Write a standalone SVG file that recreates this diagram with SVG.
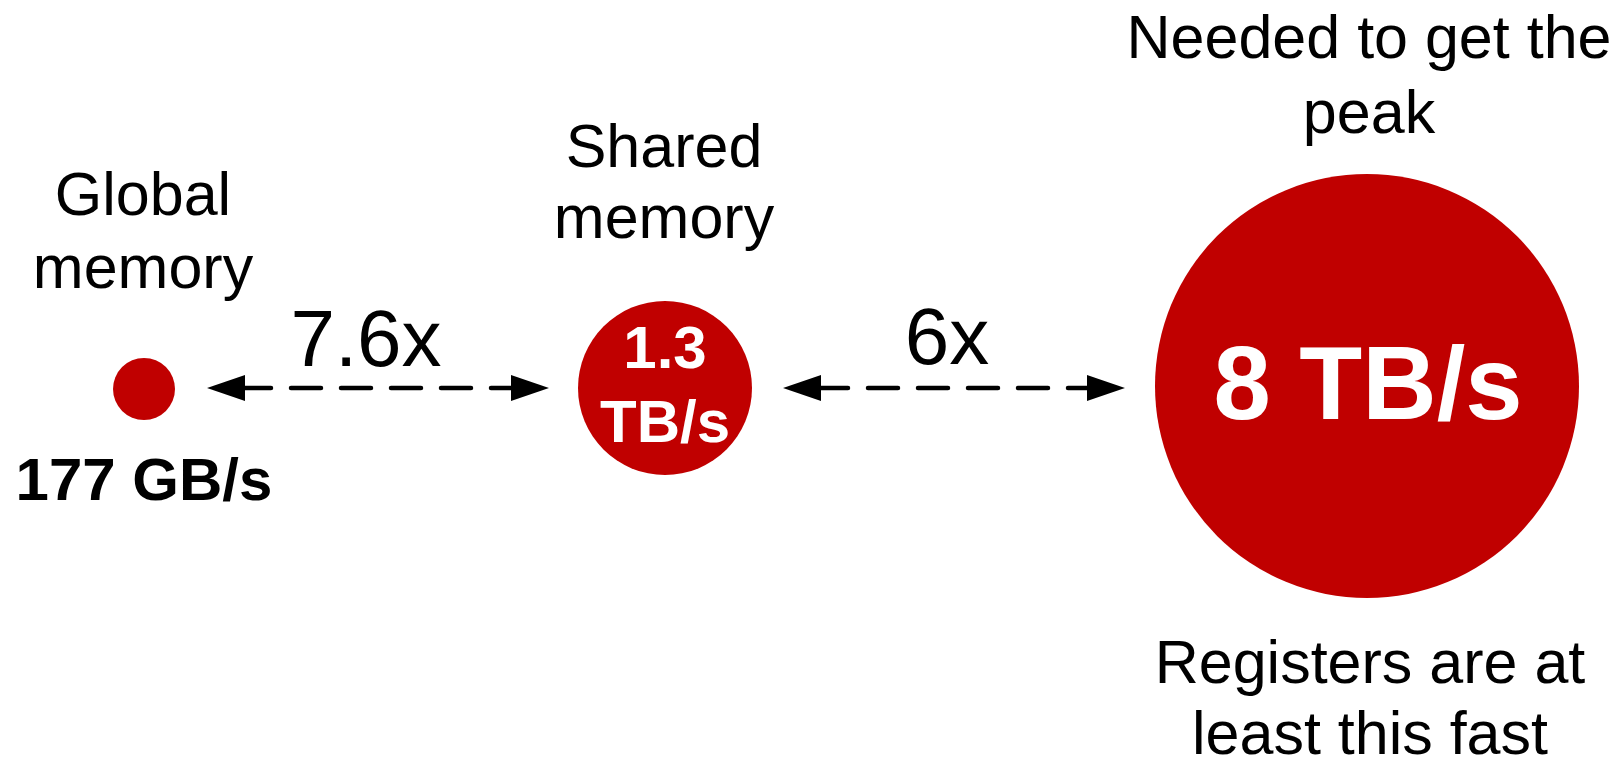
<svg xmlns="http://www.w3.org/2000/svg" width="1621" height="758" viewBox="0 0 1621 758">
  <style>
    .lbl { font-family: "Liberation Sans", Arial, sans-serif; font-size: 61px; fill: #000; text-anchor: middle; }
    .ratio { font-family: "Liberation Sans", Arial, sans-serif; font-size: 80px; fill: #000; text-anchor: middle; }
    .bw { font-family: "Liberation Sans", Arial, sans-serif; font-weight: bold; text-anchor: middle; }
    .dot { fill: #c00000; }
    .link { fill: none; stroke: #000; stroke-width: 4.5; stroke-linecap: round; stroke-dasharray: 30 20; }
  </style>
  <defs>
    <marker id="head" markerUnits="userSpaceOnUse" viewBox="0 0 38 26" refX="0" refY="13" markerWidth="38" markerHeight="26" orient="auto-start-reverse">
      <path d="M0,0 L38,13 L0,26 z" fill="#000"/>
    </marker>
  </defs>

  <rect width="1621" height="758" fill="#fff"/>

  <g id="connectors">
    <path class="link" d="M245,388 L511,388" stroke-dashoffset="4" marker-start="url(#head)" marker-end="url(#head)"/>
    <path class="link" d="M821,388 L1087,388" stroke-dashoffset="3" marker-start="url(#head)" marker-end="url(#head)"/>
    <text class="ratio" x="366" y="366">7.6x</text>
    <text class="ratio" x="947" y="364">6x</text>
  </g>

  <g id="global-memory">
    <text class="lbl" x="143" y="215">Global</text>
    <text class="lbl" x="143" y="288">memory</text>
    <circle class="dot" cx="144" cy="389" r="31"/>
    <text class="bw" x="144" y="500" font-size="60" fill="#000">177 GB/s</text>
  </g>

  <g id="shared-memory">
    <text class="lbl" x="664" y="167">Shared</text>
    <text class="lbl" x="664" y="238">memory</text>
    <circle class="dot" cx="665" cy="388" r="87"/>
    <text class="bw" x="665" y="368" font-size="60" fill="#fff">1.3</text>
    <text class="bw" x="665" y="442" font-size="60" fill="#fff">TB/s</text>
  </g>

  <g id="registers">
    <text class="lbl" x="1369" y="58">Needed to get the</text>
    <text class="lbl" x="1369" y="133">peak</text>
    <circle class="dot" cx="1367" cy="386" r="212"/>
    <text class="bw" x="1368" y="419" font-size="103" fill="#fff">8 TB/s</text>
    <text class="lbl" x="1370" y="683">Registers are at</text>
    <text class="lbl" x="1370" y="754">least this fast</text>
  </g>
</svg>
